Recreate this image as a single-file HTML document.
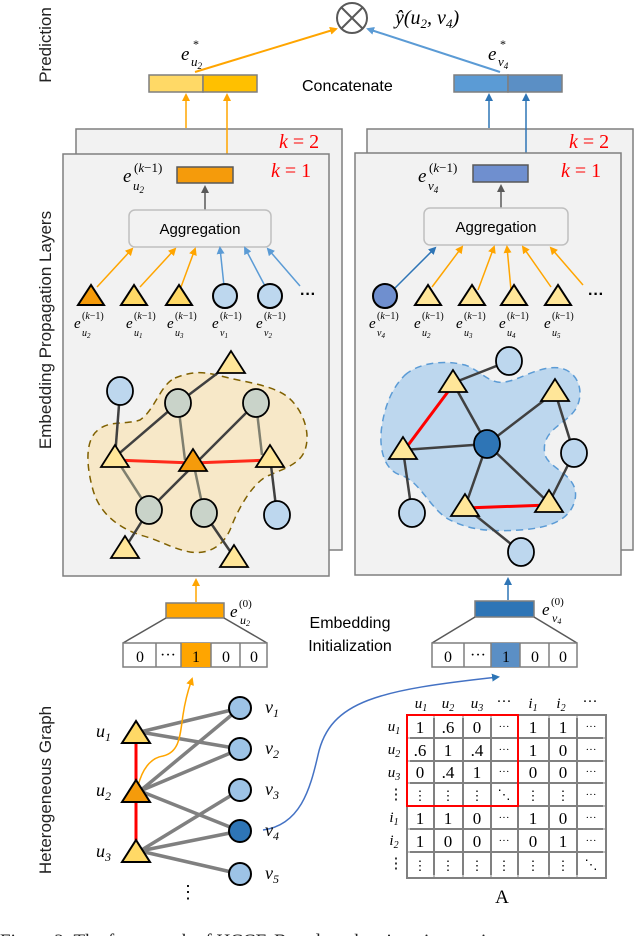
<!DOCTYPE html>
<html><head><meta charset="utf-8"><style>
html,body{margin:0;padding:0;background:#fff;}
svg{display:block;}
.s{font-family:"Liberation Sans",sans-serif;}
.m{font-family:"Liberation Serif",serif;font-style:italic;}
.r{font-family:"Liberation Serif",serif;}
</style></head><body>
<svg width="634" height="936" viewBox="0 0 634 936" xmlns="http://www.w3.org/2000/svg">
<defs>
<marker id="ao" markerWidth="8" markerHeight="8" refX="6" refY="4" orient="auto" markerUnits="userSpaceOnUse"><path d="M0,0 L8,4 L0,8 z" fill="#FFA500"/></marker>
<marker id="ab" markerWidth="8" markerHeight="8" refX="6" refY="4" orient="auto" markerUnits="userSpaceOnUse"><path d="M0,0 L8,4 L0,8 z" fill="#5B9BD5"/></marker>
<marker id="ad" markerWidth="8" markerHeight="8" refX="6" refY="4" orient="auto" markerUnits="userSpaceOnUse"><path d="M0,0 L8,4 L0,8 z" fill="#2E75B6"/></marker>
<marker id="ag" markerWidth="8" markerHeight="8" refX="6" refY="4" orient="auto" markerUnits="userSpaceOnUse"><path d="M0,0 L8,4 L0,8 z" fill="#595959"/></marker>
</defs>

<!-- side labels -->
<text class="s" font-size="17" fill="#222" transform="translate(51,45) rotate(-90)" text-anchor="middle">Prediction</text>
<text class="s" font-size="17" fill="#222" transform="translate(51,330) rotate(-90)" text-anchor="middle">Embedding Propagation Layers</text>
<text class="s" font-size="17" fill="#222" transform="translate(51,790) rotate(-90)" text-anchor="middle">Heterogeneous Graph</text>

<!-- prediction -->
<circle cx="352" cy="18" r="15" fill="none" stroke="#595959" stroke-width="2"/>
<line x1="341" y1="7" x2="363" y2="29" stroke="#595959" stroke-width="2"/>
<line x1="363" y1="7" x2="341" y2="29" stroke="#595959" stroke-width="2"/>
<text class="m" font-size="20" x="395" y="24">ŷ(u<tspan font-size="13" dy="4">2</tspan><tspan dy="-4">, v</tspan><tspan font-size="13" dy="4">4</tspan><tspan dy="-4">)</tspan></text>
<text class="m" font-size="19" x="181" y="60">e</text><text class="r" font-size="12" x="193" y="48">*</text><text class="m" font-size="13" x="191" y="66">u<tspan font-size="9" dy="3">2</tspan></text>
<text class="m" font-size="19" x="488" y="60">e</text><text class="r" font-size="12" x="500" y="48">*</text><text class="m" font-size="13" x="498" y="66">v<tspan font-size="9" dy="3">4</tspan></text>
<line x1="195" y1="72" x2="336" y2="29" stroke="#FFA500" stroke-width="2" marker-end="url(#ao)"/>
<line x1="500" y1="72" x2="368" y2="29" stroke="#5B9BD5" stroke-width="2" marker-end="url(#ab)"/>
<rect x="149" y="75" width="54" height="17" fill="#FFD966" stroke="#7F7F7F" stroke-width="1.5"/>
<rect x="203" y="75" width="54" height="17" fill="#FFC000" stroke="#7F7F7F" stroke-width="1.5"/>
<rect x="454" y="75" width="54" height="17" fill="#5B9BD5" stroke="#7F7F7F" stroke-width="1.5"/>
<rect x="508" y="75" width="54" height="17" fill="#5B8FC5" stroke="#7F7F7F" stroke-width="1.5"/>
<text class="s" font-size="16" x="302" y="91">Concatenate</text>

<!-- back panels -->
<rect x="76" y="129" width="266" height="421" fill="#F2F2F2" stroke="#7F7F7F" stroke-width="1.5"/>
<rect x="367" y="129" width="266" height="421" fill="#F2F2F2" stroke="#7F7F7F" stroke-width="1.5"/>
<line x1="186" y1="128" x2="186" y2="95" stroke="#FFA500" stroke-width="1.5" marker-end="url(#ao)"/>
<line x1="227" y1="154" x2="227" y2="95" stroke="#FFA500" stroke-width="1.5" marker-end="url(#ao)"/>
<line x1="489" y1="128" x2="489" y2="95" stroke="#2E75B6" stroke-width="1.5" marker-end="url(#ad)"/>
<line x1="526" y1="154" x2="526" y2="95" stroke="#2E75B6" stroke-width="1.5" marker-end="url(#ad)"/>
<text class="m" font-size="20" fill="#FF0000" x="279" y="148">k <tspan font-style="normal">= 2</tspan></text>
<text class="m" font-size="20" fill="#FF0000" x="569" y="148">k <tspan font-style="normal">= 2</tspan></text>
<!-- front panels -->
<rect x="63" y="154" width="266" height="422" fill="#F2F2F2" stroke="#7F7F7F" stroke-width="1.5"/>
<rect x="355" y="153" width="266" height="422" fill="#F2F2F2" stroke="#7F7F7F" stroke-width="1.5"/>
<text class="m" font-size="20" fill="#FF0000" x="271" y="177">k <tspan font-style="normal">= 1</tspan></text>
<text class="m" font-size="20" fill="#FF0000" x="561" y="177">k <tspan font-style="normal">= 1</tspan></text>

<!-- layer outputs -->
<text class="m" font-size="19" x="123" y="182">e</text><text class="r" font-size="13" x="134" y="172">(<tspan font-style="italic">k</tspan>−1)</text><text class="m" font-size="13" x="133" y="190">u<tspan font-size="9" dy="3">2</tspan></text>
<rect x="177" y="167" width="56" height="16" fill="#F59B0B" stroke="#595959" stroke-width="1.5"/>
<text class="m" font-size="19" x="418" y="182">e</text><text class="r" font-size="13" x="429" y="172">(<tspan font-style="italic">k</tspan>−1)</text><text class="m" font-size="13" x="428" y="190">v<tspan font-size="9" dy="3">4</tspan></text>
<rect x="473" y="165" width="55" height="17" fill="#6F8FCF" stroke="#595959" stroke-width="1.5"/>
<line x1="205" y1="210" x2="205" y2="187" stroke="#595959" stroke-width="1.5" marker-end="url(#ag)"/>
<line x1="501" y1="208" x2="501" y2="186" stroke="#595959" stroke-width="1.5" marker-end="url(#ag)"/>
<rect x="129" y="210" width="142" height="37" rx="6" fill="#F2F2F2" stroke="#BFBFBF" stroke-width="1.5"/>
<rect x="424" y="208" width="144" height="37" rx="6" fill="#F2F2F2" stroke="#BFBFBF" stroke-width="1.5"/>
<text class="s" font-size="15" x="200" y="234" text-anchor="middle">Aggregation</text>
<text class="s" font-size="15" x="496" y="232" text-anchor="middle">Aggregation</text>

<!-- aggregation input arrows -->
<g stroke-width="1.5" fill="none">
<line x1="97" y1="287" x2="132" y2="249" stroke="#FFA500" marker-end="url(#ao)"/>
<line x1="140" y1="287" x2="175" y2="249" stroke="#FFA500" marker-end="url(#ao)"/>
<line x1="181" y1="287" x2="195" y2="249" stroke="#FFA500" marker-end="url(#ao)"/>
<line x1="224" y1="286" x2="220" y2="248" stroke="#5B9BD5" marker-end="url(#ab)"/>
<line x1="265" y1="286" x2="245" y2="248" stroke="#5B9BD5" marker-end="url(#ab)"/>
<line x1="300" y1="286" x2="268" y2="249" stroke="#5B9BD5" marker-end="url(#ab)"/>
<line x1="393" y1="290" x2="435" y2="248" stroke="#2E75B6" marker-end="url(#ad)"/>
<line x1="432" y1="287" x2="462" y2="247" stroke="#FFA500" marker-end="url(#ao)"/>
<line x1="478" y1="290" x2="494" y2="247" stroke="#FFA500" marker-end="url(#ao)"/>
<line x1="511" y1="290" x2="507" y2="247" stroke="#FFA500" marker-end="url(#ao)"/>
<line x1="551" y1="287" x2="523" y2="247" stroke="#FFA500" marker-end="url(#ao)"/>
<line x1="583" y1="285" x2="551" y2="248" stroke="#FFA500" marker-end="url(#ao)"/>
</g>
<!-- input nodes -->
<g stroke="#000" stroke-width="2">
<polygon points="91,285 78,305 104,305" fill="#F59B0B"/>
<polygon points="134,285 121,305 147,305" fill="#FFD966"/>
<polygon points="179,285 166,305 192,305" fill="#FFD966"/>
<ellipse cx="225" cy="296" rx="12" ry="12" fill="#BDD7EE"/>
<ellipse cx="270" cy="296" rx="12" ry="12" fill="#BDD7EE"/>
<ellipse cx="385" cy="296" rx="12" ry="12" fill="#6F8FCF"/>
<polygon points="428,285 415,305 441,305" fill="#FFE699"/>
<polygon points="472,285 459,305 485,305" fill="#FFE699"/>
<polygon points="514,285 501,305 527,305" fill="#FFE699"/>
<polygon points="558,285 545,305 571,305" fill="#FFE699"/>
</g>
<text class="s" font-size="16" font-weight="bold" x="300" y="299">···</text>
<text class="s" font-size="16" font-weight="bold" x="588" y="299">···</text>
<g class="m" font-size="15">
<text x="74" y="328">e</text><text x="126" y="328">e</text><text x="167" y="328">e</text><text x="212" y="328">e</text><text x="256" y="328">e</text>
<text x="369" y="328">e</text><text x="414" y="328">e</text><text x="456" y="328">e</text><text x="499" y="328">e</text><text x="544" y="328">e</text>
</g>
<g class="r" font-size="10">
<text x="82" y="319">(<tspan font-style="italic">k</tspan>−1)</text><text x="134" y="319">(<tspan font-style="italic">k</tspan>−1)</text><text x="175" y="319">(<tspan font-style="italic">k</tspan>−1)</text><text x="220" y="319">(<tspan font-style="italic">k</tspan>−1)</text><text x="264" y="319">(<tspan font-style="italic">k</tspan>−1)</text>
<text x="377" y="319">(<tspan font-style="italic">k</tspan>−1)</text><text x="422" y="319">(<tspan font-style="italic">k</tspan>−1)</text><text x="464" y="319">(<tspan font-style="italic">k</tspan>−1)</text><text x="507" y="319">(<tspan font-style="italic">k</tspan>−1)</text><text x="552" y="319">(<tspan font-style="italic">k</tspan>−1)</text>
</g>
<g class="m" font-size="10">
<text x="82" y="336">u<tspan font-size="7" dy="2">2</tspan></text><text x="134" y="336">u<tspan font-size="7" dy="2">1</tspan></text><text x="175" y="336">u<tspan font-size="7" dy="2">3</tspan></text><text x="220" y="336">v<tspan font-size="7" dy="2">1</tspan></text><text x="264" y="336">v<tspan font-size="7" dy="2">2</tspan></text>
<text x="377" y="336">v<tspan font-size="7" dy="2">4</tspan></text><text x="422" y="336">u<tspan font-size="7" dy="2">2</tspan></text><text x="464" y="336">u<tspan font-size="7" dy="2">3</tspan></text><text x="507" y="336">u<tspan font-size="7" dy="2">4</tspan></text><text x="552" y="336">u<tspan font-size="7" dy="2">5</tspan></text>
</g>

<!-- left graph -->
<path d="M175,378 C195,370 205,372 225,377 C245,382 270,385 285,395 C300,405 312,430 305,450 C300,465 280,470 270,475 C255,480 240,505 232,525 C225,545 210,555 190,552 C170,548 160,540 140,535 C120,528 100,515 93,490 C86,465 85,440 98,430 C110,420 125,425 140,420 C155,410 160,385 175,378 Z" fill="#F7E8C8" stroke="#7F6000" stroke-width="1.5" stroke-dasharray="7,5"/>
<g stroke="#404040" stroke-width="2.5">
<line x1="120" y1="392" x2="115" y2="457"/>
<line x1="115" y1="457" x2="178" y2="403"/>
<line x1="178" y1="403" x2="231" y2="363"/>
<line x1="178" y1="403" x2="185" y2="460" stroke="#7F7F6F"/>
<line x1="256" y1="403" x2="149" y2="510"/>
<line x1="256" y1="403" x2="262" y2="455" stroke="#7F7F6F"/>
<line x1="115" y1="457" x2="149" y2="510" stroke="#7F7F6F"/>
<line x1="193" y1="461" x2="204" y2="513" stroke="#7F7F6F"/>
<line x1="149" y1="510" x2="125" y2="548"/>
<line x1="204" y1="513" x2="234" y2="557"/>
<line x1="270" y1="457" x2="277" y2="515"/>
</g>
<line x1="115" y1="460" x2="193" y2="463" stroke="#FF2A1A" stroke-width="3"/>
<line x1="193" y1="463" x2="270" y2="460" stroke="#FF2A1A" stroke-width="3"/>
<g stroke="#000" stroke-width="1.8">
<ellipse cx="120" cy="391" rx="13" ry="14" fill="#BDD7EE"/>
<ellipse cx="178" cy="403" rx="13" ry="14" fill="#C9D3C9"/>
<ellipse cx="256" cy="403" rx="13" ry="14" fill="#C9D3C9"/>
<ellipse cx="149" cy="510" rx="13" ry="14" fill="#C9D3C9"/>
<ellipse cx="204" cy="513" rx="13" ry="14" fill="#C9D3C9"/>
<ellipse cx="277" cy="515" rx="13" ry="14" fill="#BDD7EE"/>
<polygon points="231,351 217,373 245,373" fill="#FFE699"/>
<polygon points="115,445 101,467 129,467" fill="#FFE699"/>
<polygon points="193,449 179,471 207,471" fill="#F59B0B"/>
<polygon points="270,445 256,467 284,467" fill="#FFE699"/>
<polygon points="125,536 111,558 139,558" fill="#FFE699"/>
<polygon points="234,545 220,567 248,567" fill="#FFE699"/>
</g>

<!-- right graph -->
<path d="M405,375 C420,362 445,360 465,365 C480,370 490,385 505,382 C520,380 540,365 560,368 C580,372 585,395 575,410 C565,425 540,430 545,455 C550,470 580,475 575,500 C570,520 550,528 520,530 C490,532 470,530 450,520 C430,510 420,480 400,475 C385,470 378,450 382,425 C386,400 395,385 405,375 Z" fill="#BDD7EE" stroke="#5B9BD5" stroke-width="1.5" stroke-dasharray="7,5"/>
<g stroke="#404040" stroke-width="2.5">
<line x1="453" y1="383" x2="509" y2="361"/>
<line x1="453" y1="383" x2="487" y2="444"/>
<line x1="403" y1="450" x2="487" y2="444"/>
<line x1="487" y1="444" x2="555" y2="392"/>
<line x1="555" y1="392" x2="574" y2="453"/>
<line x1="574" y1="453" x2="549" y2="503"/>
<line x1="487" y1="444" x2="465" y2="507"/>
<line x1="487" y1="444" x2="549" y2="503"/>
<line x1="403" y1="450" x2="412" y2="513"/>
<line x1="465" y1="507" x2="521" y2="552"/>
</g>
<line x1="453" y1="385" x2="403" y2="452" stroke="#FF0000" stroke-width="3"/>
<line x1="465" y1="508" x2="549" y2="505" stroke="#FF0000" stroke-width="3"/>
<g stroke="#000" stroke-width="1.8">
<ellipse cx="509" cy="361" rx="13" ry="14" fill="#BDD7EE"/>
<ellipse cx="487" cy="444" rx="13" ry="14" fill="#2E75B6"/>
<ellipse cx="574" cy="453" rx="13" ry="14" fill="#BDD7EE"/>
<ellipse cx="412" cy="513" rx="13" ry="14" fill="#BDD7EE"/>
<ellipse cx="521" cy="552" rx="13" ry="14" fill="#BDD7EE"/>
<polygon points="453,370 439,392 467,392" fill="#FFE699"/>
<polygon points="555,379 541,401 569,401" fill="#FFE699"/>
<polygon points="403,437 389,459 417,459" fill="#FFE699"/>
<polygon points="465,494 451,516 479,516" fill="#FFE699"/>
<polygon points="549,490 535,512 563,512" fill="#FFE699"/>
</g>

<!-- init -->
<line x1="196" y1="602" x2="196" y2="580" stroke="#FFA500" stroke-width="1.5" marker-end="url(#ao)"/>
<line x1="508" y1="600" x2="508" y2="579" stroke="#2E75B6" stroke-width="1.5" marker-end="url(#ad)"/>
<rect x="166" y="603" width="58" height="15" fill="#FFA500" stroke="#7F7F7F" stroke-width="1.5"/>
<rect x="475" y="601" width="59" height="16" fill="#2E75B6" stroke="#7F7F7F" stroke-width="1.5"/>
<line x1="166" y1="618" x2="123" y2="643" stroke="#595959" stroke-width="1.5"/>
<line x1="224" y1="618" x2="267" y2="643" stroke="#595959" stroke-width="1.5"/>
<line x1="475" y1="617" x2="432" y2="643" stroke="#595959" stroke-width="1.5"/>
<line x1="534" y1="617" x2="577" y2="643" stroke="#595959" stroke-width="1.5"/>
<text class="m" font-size="17" x="230" y="617">e</text><text class="r" font-size="11" x="239" y="607">(0)</text><text class="m" font-size="12" x="240" y="624">u<tspan font-size="8" dy="2">2</tspan></text>
<text class="m" font-size="17" x="542" y="615">e</text><text class="r" font-size="11" x="551" y="605">(0)</text><text class="m" font-size="12" x="552" y="622">v<tspan font-size="8" dy="2">4</tspan></text>
<text class="s" font-size="16" x="350" y="628" text-anchor="middle">Embedding</text>
<text class="s" font-size="16" x="350" y="651" text-anchor="middle">Initialization</text>
<g stroke="#7F7F7F" stroke-width="1.5">
<rect x="123" y="643" width="144" height="24" fill="#fff"/>
<rect x="181" y="643" width="30" height="24" fill="#FFA500" stroke="none"/>
<line x1="156" y1="643" x2="156" y2="667"/><line x1="181" y1="643" x2="181" y2="667"/><line x1="211" y1="643" x2="211" y2="667"/><line x1="240" y1="643" x2="240" y2="667"/>
<rect x="432" y="643" width="145" height="24" fill="#fff"/>
<rect x="491" y="643" width="29" height="24" fill="#5B8FC5" stroke="none"/>
<line x1="464" y1="643" x2="464" y2="667"/><line x1="491" y1="643" x2="491" y2="667"/><line x1="520" y1="643" x2="520" y2="667"/><line x1="549" y1="643" x2="549" y2="667"/>
</g>
<g class="r" font-size="16" text-anchor="middle">
<text x="140" y="662">0</text><text x="168" y="660">···</text><text x="196" y="662">1</text><text x="226" y="662">0</text><text x="254" y="662">0</text>
<text x="448" y="662">0</text><text x="478" y="660">···</text><text x="506" y="662">1</text><text x="535" y="662">0</text><text x="563" y="662">0</text>
</g>

<!-- heterogeneous graph -->
<g stroke="#808080" stroke-width="3.5">
<line x1="140" y1="732" x2="240" y2="708"/>
<line x1="140" y1="732" x2="240" y2="749"/>
<line x1="140" y1="791" x2="240" y2="708"/>
<line x1="140" y1="791" x2="240" y2="749"/>
<line x1="140" y1="791" x2="240" y2="831"/>
<line x1="140" y1="851" x2="240" y2="790"/>
<line x1="140" y1="851" x2="240" y2="831"/>
<line x1="140" y1="851" x2="240" y2="874"/>
</g>
<line x1="136" y1="740" x2="136" y2="845" stroke="#FF0000" stroke-width="3"/>
<path d="M138,786 C142,770 150,758 163,756 C180,752 180,735 183,715 C186,695 190,685 192,679" fill="none" stroke="#FFA500" stroke-width="1.5" marker-end="url(#ao)"/>
<path d="M263,830 C300,825 310,790 318,755 C330,700 380,690 498,677" fill="none" stroke="#4472C4" stroke-width="1.5" marker-end="url(#ad)"/>
<g stroke="#000" stroke-width="2">
<polygon points="136,721 122,743 150,743" fill="#FFD966"/>
<polygon points="136,780 122,802 150,802" fill="#F59B0B"/>
<polygon points="136,840 122,862 150,862" fill="#FFD966"/>
<ellipse cx="240" cy="708" rx="11" ry="11" fill="#9DC3E6"/>
<ellipse cx="240" cy="749" rx="11" ry="11" fill="#9DC3E6"/>
<ellipse cx="240" cy="790" rx="11" ry="11" fill="#9DC3E6"/>
<ellipse cx="240" cy="831" rx="11" ry="11" fill="#2E75B6"/>
<ellipse cx="240" cy="874" rx="11" ry="11" fill="#9DC3E6"/>
</g>
<g class="m" font-size="18">
<text x="96" y="737">u<tspan font-size="12" dy="4">1</tspan></text>
<text x="96" y="796">u<tspan font-size="12" dy="4">2</tspan></text>
<text x="96" y="857">u<tspan font-size="12" dy="4">3</tspan></text>
<text x="265" y="713">v<tspan font-size="12" dy="4">1</tspan></text>
<text x="265" y="754">v<tspan font-size="12" dy="4">2</tspan></text>
<text x="265" y="795">v<tspan font-size="12" dy="4">3</tspan></text>
<text x="265" y="836">v<tspan font-size="12" dy="4">4</tspan></text>
<text x="265" y="879">v<tspan font-size="12" dy="4">5</tspan></text>
</g>
<text class="r" font-size="18" x="188" y="898" text-anchor="middle">⋮</text>

<!-- matrix -->
<g class="m" font-size="15" text-anchor="middle">
<text x="421" y="708">u<tspan font-size="10" dy="3">1</tspan></text>
<text x="448" y="708">u<tspan font-size="10" dy="3">2</tspan></text>
<text x="477" y="708">u<tspan font-size="10" dy="3">3</tspan></text>
<text x="504" y="706" font-style="normal">···</text>
<text x="533" y="708">i<tspan font-size="10" dy="3">1</tspan></text>
<text x="561" y="708">i<tspan font-size="10" dy="3">2</tspan></text>
<text x="590" y="706" font-style="normal">···</text>
<text x="394" y="731">u<tspan font-size="10" dy="3">1</tspan></text>
<text x="394" y="754">u<tspan font-size="10" dy="3">2</tspan></text>
<text x="394" y="777">u<tspan font-size="10" dy="3">3</tspan></text>
<text x="396" y="799" font-style="normal">⋮</text>
<text x="394" y="822">i<tspan font-size="10" dy="3">1</tspan></text>
<text x="394" y="845">i<tspan font-size="10" dy="3">2</tspan></text>
<text x="396" y="868" font-style="normal">⋮</text>
</g>
<g stroke="#808080" stroke-width="2" fill="none">
<rect x="407" y="715" width="199" height="163" fill="#fff"/>
<line x1="434" y1="715" x2="434" y2="878"/><line x1="463" y1="715" x2="463" y2="878"/><line x1="491" y1="715" x2="491" y2="878"/><line x1="518" y1="715" x2="518" y2="878"/><line x1="549" y1="715" x2="549" y2="878"/><line x1="577" y1="715" x2="577" y2="878"/>
<line x1="407" y1="738" x2="606" y2="738"/><line x1="407" y1="761" x2="606" y2="761"/><line x1="407" y1="783" x2="606" y2="783"/><line x1="407" y1="806" x2="606" y2="806"/><line x1="407" y1="829" x2="606" y2="829"/><line x1="407" y1="852" x2="606" y2="852"/>
</g>
<g stroke="#fff" stroke-width="1" fill="none">
<rect x="409" y="717" width="195" height="159"/>
</g>
<rect x="407" y="715" width="111" height="91" fill="none" stroke="#FF0000" stroke-width="2"/>
<g class="r" font-size="17" text-anchor="middle">
<text x="420" y="733">1</text><text x="448" y="733">.6</text><text x="477" y="733">0</text><text x="504" y="730" font-size="11">···</text><text x="533" y="733">1</text><text x="563" y="733">1</text><text x="591" y="730" font-size="11">···</text>
<text x="420" y="756">.6</text><text x="448" y="756">1</text><text x="477" y="756">.4</text><text x="504" y="753" font-size="11">···</text><text x="533" y="756">1</text><text x="563" y="756">0</text><text x="591" y="753" font-size="11">···</text>
<text x="420" y="778">0</text><text x="448" y="778">.4</text><text x="477" y="778">1</text><text x="504" y="775" font-size="11">···</text><text x="533" y="778">0</text><text x="563" y="778">0</text><text x="591" y="775" font-size="11">···</text>
<text x="420" y="800" font-size="13">⋮</text><text x="448" y="800" font-size="13">⋮</text><text x="477" y="800" font-size="13">⋮</text><text x="504" y="799" font-size="13">⋱</text><text x="533" y="800" font-size="13">⋮</text><text x="563" y="800" font-size="13">⋮</text><text x="591" y="798" font-size="11">···</text>
<text x="420" y="824">1</text><text x="448" y="824">1</text><text x="477" y="824">0</text><text x="504" y="821" font-size="11">···</text><text x="533" y="824">1</text><text x="563" y="824">0</text><text x="591" y="821" font-size="11">···</text>
<text x="420" y="847">1</text><text x="448" y="847">0</text><text x="477" y="847">0</text><text x="504" y="844" font-size="11">···</text><text x="533" y="847">0</text><text x="563" y="847">1</text><text x="591" y="844" font-size="11">···</text>
<text x="420" y="870" font-size="13">⋮</text><text x="448" y="870" font-size="13">⋮</text><text x="477" y="870" font-size="13">⋮</text><text x="504" y="870" font-size="13">⋮</text><text x="533" y="870" font-size="13">⋮</text><text x="563" y="870" font-size="13">⋮</text><text x="591" y="869" font-size="13">⋱</text>
</g>
<text class="r" font-size="19" x="502" y="903" text-anchor="middle">A</text>

<!-- clipped caption -->
<text class="r" font-size="19" x="0" y="947" fill="#222">Figure 2:  The framework of HCCF. Based on the given interaction</text>
</svg>
</body></html>
